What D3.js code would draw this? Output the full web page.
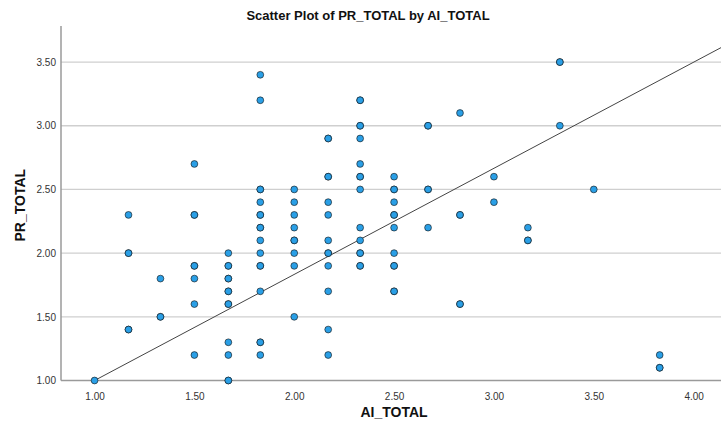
<!DOCTYPE html>
<html>
<head>
<meta charset="utf-8">
<script src="https://cdn.jsdelivr.net/npm/d3@7"></script>
<style>
  html, body { margin: 0; padding: 0; background: #fff; }
  svg { display: block; font-family: "Liberation Sans", Arial, sans-serif; }
</style>
</head>
<body>
<svg id="chart" width="721" height="430"></svg>
<script>
// AI_TOTAL levels and the PR_TOTAL scores observed at each level
// (repeated values are cases that share the same coordinates)
const aiLevels = [1.00, 1.17, 1.33, 1.50, 1.67, 1.83, 2.00, 2.17, 2.33, 2.50, 2.67, 2.83, 3.00, 3.17, 3.33, 3.50, 3.83];
const prByLevel = [
  [1.00],
  [2.30, 2.00, 2.00, 1.40, 1.40],
  [1.80, 1.50, 1.50],
  [2.70, 2.30, 2.30, 1.90, 1.90, 1.80, 1.60, 1.20],
  [2.00, 1.90, 1.90, 1.80, 1.80, 1.70, 1.70, 1.60, 1.60, 1.30, 1.20, 1.00, 1.00],
  [3.40, 3.20, 2.50, 2.50, 2.40, 2.30, 2.30, 2.20, 2.20, 2.10, 2.00, 1.90, 1.90, 1.70, 1.30, 1.30, 1.20],
  [2.50, 2.40, 2.30, 2.20, 2.10, 2.10, 2.00, 1.90, 1.50],
  [2.90, 2.90, 2.60, 2.60, 2.40, 2.30, 2.10, 2.00, 2.00, 1.90, 1.70, 1.40, 1.20],
  [3.20, 3.20, 3.00, 3.00, 2.90, 2.70, 2.60, 2.60, 2.50, 2.20, 2.10, 2.00, 2.00, 1.90, 1.90],
  [2.60, 2.50, 2.50, 2.40, 2.30, 2.30, 2.20, 2.00, 1.90, 1.90, 1.70, 1.70],
  [3.00, 3.00, 2.50, 2.50, 2.20],
  [3.10, 2.30, 2.30, 1.60, 1.60],
  [2.60, 2.40],
  [2.20, 2.10, 2.10],
  [3.50, 3.50, 3.00],
  [2.50],
  [1.20, 1.10, 1.10]
];
const xTicks = [1.00, 1.50, 2.00, 2.50, 3.00, 3.50, 4.00];
const yTicks = [1.00, 1.50, 2.00, 2.50, 3.00, 3.50];
// linear fit line: PR_TOTAL = intercept + slope * AI_TOTAL
const fitIntercept = 0.167;
const fitSlope = 0.833;

const points = [];
aiLevels.forEach((ai, i) => prByLevel[i].forEach(pr => points.push({ ai, pr })));

const svg = d3.select("#chart");
const plot = { left: 61, right: 721, top: 26, bottom: 380.5 };

const x = d3.scaleLinear().domain([0.832, 4.137]).range([plot.left, plot.right]);
const y = d3.scaleLinear().domain([1.0, 3.783]).range([plot.bottom, plot.top]);

// title
svg.append("text")
  .attr("x", 368).attr("y", 20)
  .attr("text-anchor", "middle")
  .attr("font-size", 13).attr("font-weight", "bold").attr("fill", "#111")
  .text("Scatter Plot of PR_TOTAL by AI_TOTAL");

// horizontal grid lines
svg.append("g").selectAll("line")
  .data(yTicks.filter(t => t > 1.0))
  .join("line")
  .attr("x1", plot.left).attr("x2", plot.right)
  .attr("y1", d => y(d)).attr("y2", d => y(d))
  .attr("stroke", "#cfcfcf").attr("stroke-width", 1.3);

// axes
const xAxis = svg.append("g")
  .attr("transform", `translate(0,${plot.bottom})`)
  .call(d3.axisBottom(x).tickValues(xTicks).tickFormat(d3.format(".2f")).tickSize(0).tickPadding(12));
const yAxis = svg.append("g")
  .attr("transform", `translate(${plot.left},0)`)
  .call(d3.axisLeft(y).tickValues(yTicks).tickFormat(d3.format(".2f")).tickSize(0).tickPadding(5));

[xAxis, yAxis].forEach(g => {
  g.select(".domain").attr("stroke", "#9a9a9a").attr("stroke-width", 1.5);
  g.selectAll("text").attr("font-size", 10).attr("fill", "#333")
    .attr("font-family", "'Liberation Sans', Arial, sans-serif");
});
xAxis.select(".domain").attr("d", `M${plot.left},0H${plot.right}`);
yAxis.select(".domain").attr("d", `M0,${plot.top}V${plot.bottom}`);

// clip region for the fit line
svg.append("clipPath").attr("id", "plotClip")
  .append("rect")
  .attr("x", plot.left).attr("y", plot.top)
  .attr("width", plot.right - plot.left).attr("height", plot.bottom - plot.top);

const fitX = x.domain();
svg.append("line")
  .attr("clip-path", "url(#plotClip)")
  .attr("x1", x(fitX[0])).attr("y1", y(fitIntercept + fitSlope * fitX[0]))
  .attr("x2", x(fitX[1])).attr("y2", y(fitIntercept + fitSlope * fitX[1]))
  .attr("stroke", "#444").attr("stroke-width", 1);

// points
svg.append("g").selectAll("circle")
  .data(points)
  .join("circle")
  .attr("cx", d => x(d.ai)).attr("cy", d => y(d.pr))
  .attr("r", 3.4)
  .attr("fill", "#2a9fe6")
  .attr("stroke", "#111").attr("stroke-opacity", 0.6).attr("stroke-width", 1);

// axis titles
svg.append("text")
  .attr("x", 394).attr("y", 417)
  .attr("text-anchor", "middle")
  .attr("font-size", 14).attr("font-weight", "bold").attr("fill", "#111")
  .text("AI_TOTAL");
svg.append("text")
  .attr("transform", `translate(25,${(plot.top + plot.bottom) / 2 + 2}) rotate(-90)`)
  .attr("text-anchor", "middle")
  .attr("font-size", 14).attr("font-weight", "bold").attr("fill", "#111")
  .text("PR_TOTAL");
</script>
</body>
</html>
